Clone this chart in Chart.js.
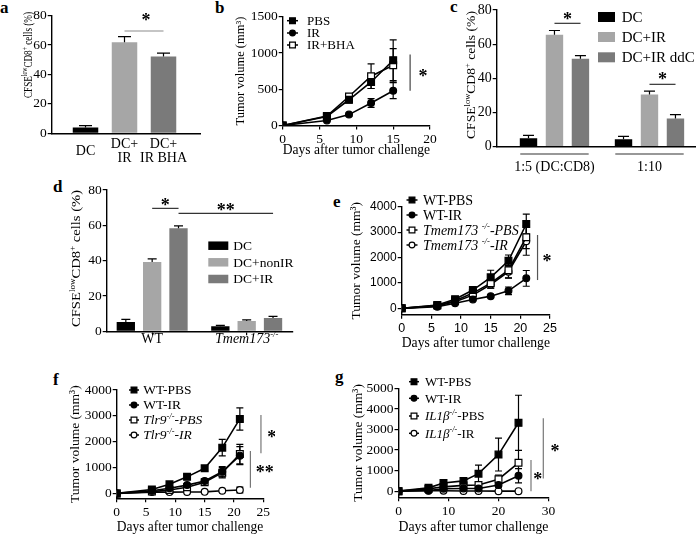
<!DOCTYPE html>
<html>
<head>
<meta charset="utf-8">
<script src="https://cdn.jsdelivr.net/npm/chart.js@4.4.0/dist/chart.umd.min.js"></script>
<style>
body { margin: 0; background: #fff; width: 698px; height: 536px; position: relative; overflow: hidden; }
canvas { position: absolute; }
.lbl { position: absolute; font: bold 17px 'Liberation Serif', serif; line-height: 17px; }
</style>
</head>
<body>
<span class="lbl" style="left:0px;top:-1px">a</span>
<span class="lbl" style="left:215px;top:-1px">b</span>
<span class="lbl" style="left:450px;top:-2px">c</span>
<span class="lbl" style="left:53px;top:178px">d</span>
<span class="lbl" style="left:333px;top:193px">e</span>
<span class="lbl" style="left:53px;top:371px">f</span>
<span class="lbl" style="left:335px;top:368px">g</span>

<canvas id="ca" width="210" height="175" style="left:0px;top:0px"></canvas>
<canvas id="cb" width="215" height="165" style="left:225px;top:0px"></canvas>
<canvas id="cc" width="243" height="180" style="left:455px;top:0px"></canvas>
<canvas id="cd" width="245" height="175" style="left:55px;top:180px"></canvas>
<canvas id="ce" width="230" height="160" style="left:340px;top:195px"></canvas>
<canvas id="cf" width="215" height="161" style="left:60px;top:375px"></canvas>
<canvas id="cg" width="230" height="161" style="left:340px;top:375px"></canvas>

<script>
// ---- data ----
// a
const aCats = [['DC'], ['DC+', 'IR'], ['DC+', 'IR BHA']];
const aVals = [4, 62, 52.3];
const aErr = [1.2, 3.8, 2.3];

// b
const bDays = [0, 6, 9, 12, 15];
const bPBS = [0, 125, 355, 600, 900];
const bPBSErr = [0, 20, 45, 90, 280];
const bIR = [0, 70, 150, 310, 480];
const bIRErr = [0, 10, 20, 60, 110];
const bBHA = [0, 130, 400, 680, 830];
const bBHAErr = [0, 15, 40, 170, 230];

// c
const cGroups = ['1:5 (DC:CD8)', '1:10'];
const cDC = [5, 4.3];
const cDCErr = [1.6, 1.8];
const cIR = [65.5, 30.5];
const cIRErr = [2.5, 2];
const cDdc = [51.5, 16.5];
const cDdcErr = [1.8, 2.3];

// d
const dDC = [5.3, 2.8];
const dDCErr = [1.4, 0.5];
const dNonIR = [39.2, 5.8];
const dNonIRErr = [1.8, 0.7];
const dIR = [58.3, 7.5];
const dIRErr = [1.4, 0.9];

// e
const eDays = [0, 6, 9, 12, 15, 18, 21];
const eWtPbs = [0, 130, 360, 720, 1220, 1870, 3320];
const eWtPbsErr = [0, 20, 40, 120, 280, 230, 390];
const eWtIr = [0, 60, 200, 350, 480, 690, 1180];
const eWtIrErr = [0, 10, 20, 40, 40, 150, 310];
const eKoPbs = [0, 110, 300, 600, 990, 1500, 2800];
const eKoPbsErr = [0, 15, 40, 100, 200, 300, 450];
const eKoIr = [0, 90, 260, 520, 940, 1440, 2640];
const eKoIrErr = [0, 15, 30, 80, 150, 250, 550];

// f
const fDays = [0, 6, 9, 12, 15, 18, 21];
const fWtPbs = [0, 150, 350, 640, 970, 1770, 2880];
const fWtPbsErr = [0, 30, 50, 80, 100, 320, 430];
const fWtIr = [0, 100, 200, 320, 480, 840, 1460];
const fWtIrErr = [0, 20, 40, 50, 80, 200, 350];
const fKoPbs = [0, 70, 130, 240, 430, 800, 1520];
const fKoPbsErr = [0, 15, 30, 50, 90, 200, 380];
const fKoIr = [0, 50, 50, 55, 60, 100, 130];
const fKoIrErr = [0, 10, 10, 10, 15, 30, 110];

// g
const gDays = [0, 6, 9, 13, 16, 20, 24];
const gWtPbs = [0, 160, 400, 500, 850, 1780, 3330];
const gWtPbsErr = [0, 40, 80, 150, 420, 800, 1340];
const gWtIr = [0, 30, 120, 130, 130, 300, 750];
const gWtIrErr = [0, 10, 30, 30, 40, 100, 350];
const gKoPbs = [0, 110, 210, 280, 300, 580, 1380];
const gKoPbsErr = [0, 30, 50, 60, 80, 200, 600];
const gKoIr = [0, 20, 20, 10, 10, 0, 0];
const gKoIrErr = [0, 5, 5, 5, 5, 5, 5];

// ---- helpers ----
const SERIF = "'Liberation Serif', 'Times New Roman', serif";
const SANS = "'Liberation Sans', Arial, sans-serif";
const LIGHT = '#a6a6a6';
const DARK = '#7a7a7a';
const CFSE = [['CFSE', ''], ['low', 's'], ['CD8', ''], ['+', 's'], [' cells (%)', '']];

Chart.defaults.font.family = SERIF;
Chart.defaults.color = '#000';

function fontStr(size, f, fam) {
    return (f.includes('i') ? 'italic ' : '') + (f.includes('b') ? 'bold ' : '') + size + 'px ' + fam;
}
function segSize(size, f) { return f.includes('s') ? size * 0.62 : size; }
function richWidth(ctx, segs, size, fam) {
    let w = 0;
    for (const [t, f] of segs) {
        ctx.font = fontStr(segSize(size, f), f, fam);
        w += ctx.measureText(t).width;
    }
    return w;
}
// y is the visual middle of capitals
function drawRich(ctx, segs, x, y, size, fam, align) {
    const w = richWidth(ctx, segs, size, fam);
    let cx = align === 'center' ? x - w / 2 : x;
    ctx.textAlign = 'left';
    ctx.textBaseline = 'alphabetic';
    const base = y + size * 0.33;
    for (const [t, f] of segs) {
        ctx.font = fontStr(segSize(size, f), f, fam);
        ctx.fillText(t, cx, f.includes('s') ? base - size * 0.4 : base);
        cx += ctx.measureText(t).width;
    }
}
function marker(ctx, style, fill, r, x, y) {
    ctx.fillStyle = fill;
    ctx.strokeStyle = '#000';
    ctx.lineWidth = 1.2;
    ctx.beginPath();
    if (style === 'rect') {
        const s = r * Math.SQRT1_2;
        ctx.rect(x - s, y - s, 2 * s, 2 * s);
    } else {
        ctx.arc(x, y, r, 0, Math.PI * 2);
    }
    ctx.fill();
    ctx.stroke();
}

const DECO = {};

function drawErrors(chart, cfg) {
    const ctx = chart.ctx, ys = chart.scales.y;
    ctx.save();
    ctx.strokeStyle = '#000';
    ctx.lineWidth = 1.2;
    cfg.err.forEach((E, di) => {
        const meta = chart.getDatasetMeta(di);
        const ds = chart.data.datasets[di];
        meta.data.forEach((el, j) => {
            const e = E[j];
            if (!e) return;
            const v = ds.data[j].y;
            const t = ys.getPixelForValue(v + e);
            const b = cfg.errUp ? ys.getPixelForValue(v) : ys.getPixelForValue(v - e);
            const h = cfg.cap / 2;
            ctx.beginPath();
            ctx.moveTo(el.x, b); ctx.lineTo(el.x, t);
            ctx.moveTo(el.x - h, t); ctx.lineTo(el.x + h, t);
            if (!cfg.errUp) { ctx.moveTo(el.x - h, b); ctx.lineTo(el.x + h, b); }
            ctx.stroke();
        });
    });
    ctx.restore();
}

function drawStar(ctx, text, x, y) {
    ctx.fillStyle = '#000';
    ctx.font = 'bold 18px ' + SERIF;
    ctx.textAlign = 'center';
    ctx.textBaseline = 'alphabetic';
    ctx.fillText(text, x, y + 18 * 0.5);
}

function drawExtras(chart, cfg) {
    const ctx = chart.ctx, xs = chart.scales.x, ys = chart.scales.y;
    const [ox, oy] = cfg.off;
    ctx.save();

    if (cfg.ytitle) {
        // rotated title, squeezed or stretched along its length to the reference size
        const t = cfg.ytitle;
        const w = richWidth(ctx, t.segs, t.size, SERIF);
        ctx.save();
        ctx.translate(t.cx - ox, t.cy - oy);
        ctx.rotate(-Math.PI / 2);
        ctx.scale(t.len / w, 1);
        ctx.fillStyle = '#000';
        drawRich(ctx, t.segs, 0, 0, t.size, SERIF, 'center');
        ctx.restore();
    }

    if (cfg.cats) {
        const c = cfg.cats;
        ctx.fillStyle = '#000';
        c.items.forEach((lines, i) => {
            const x = xs.getPixelForValue(i);
            const y0 = c.y - oy - (lines.length - 1) * c.lh / 2;
            lines.forEach((segs, k) => drawRich(ctx, segs, x, y0 + k * c.lh, c.font, SERIF, 'center'));
        });
    }

    if (cfg.brackets) {
        const br = cfg.brackets;
        ctx.strokeStyle = '#333';
        ctx.lineWidth = 1.1;
        br.at.forEach(v => {
            ctx.beginPath();
            ctx.moveTo(xs.getPixelForValue(v - br.half), br.y - oy);
            ctx.lineTo(xs.getPixelForValue(v + br.half), br.y - oy);
            ctx.stroke();
        });
    }

    (cfg.sig || []).forEach(s => {
        ctx.strokeStyle = s.color || '#555';
        ctx.lineWidth = 1.2;
        ctx.beginPath();
        let sx, sy;
        if (s.h) {
            const x1 = xs.getPixelForValue(s.x1), x2 = xs.getPixelForValue(s.x2), y = ys.getPixelForValue(s.y);
            ctx.moveTo(x1, y); ctx.lineTo(x2, y);
            sx = (x1 + x2) / 2 + (s.dx || 0);
            sy = y + s.dy;
        } else {
            const x = xs.getPixelForValue(s.x), y1 = ys.getPixelForValue(s.y1), y2 = ys.getPixelForValue(s.y2);
            ctx.moveTo(x, y1); ctx.lineTo(x, y2);
            sx = x + s.dx;
            sy = (y1 + y2) / 2 + (s.dy || 0);
        }
        ctx.stroke();
        drawStar(ctx, s.star, sx, sy);
    });

    if (cfg.legend) {
        const L = cfg.legend;
        L.items.forEach((it, i) => {
            const y = L.rows[i] - oy;
            const mx = L.x - ox;
            if (L.box) {
                ctx.fillStyle = it.color;
                ctx.fillRect(mx, y - L.bh / 2, L.bw, L.bh);
            } else {
                const ds = chart.data.datasets[it.ds];
                ctx.strokeStyle = '#000';
                ctx.lineWidth = 1.5;
                ctx.beginPath();
                ctx.moveTo(mx - L.mw / 2, y); ctx.lineTo(mx + L.mw / 2, y);
                ctx.stroke();
                marker(ctx, ds.pointStyle, ds.pointBackgroundColor, ds.pointRadius * 0.85, mx, y);
            }
            ctx.fillStyle = '#000';
            drawRich(ctx, it.segs, L.tx - ox, y, L.font, SERIF, 'left');
        });
    }
    ctx.restore();
}

const decoPlugin = {
    id: 'deco',
    beforeDatasetsDraw(chart) {
        const cfg = DECO[chart.canvas.id];
        if (cfg && !cfg.errUp) drawErrors(chart, cfg);
    },
    afterDatasetsDraw(chart) {
        const cfg = DECO[chart.canvas.id];
        if (!cfg) return;
        if (cfg.errUp) drawErrors(chart, cfg);
        drawExtras(chart, cfg);
    }
};
Chart.register(decoPlugin);

function yAxis(w, min, max, ticks, font, title) {
    return {
        type: 'linear', min: min, max: max, offset: false,
        afterBuildTicks: s => { s.ticks = ticks.map(v => ({ value: v })); },
        afterFit: s => { s.width = w; },
        ticks: { color: '#000', font: font, padding: 1, autoSkip: false, callback: v => String(v) },
        grid: { drawOnChartArea: false, color: '#000', tickLength: 4, lineWidth: 1.2, offset: false },
        border: { color: '#000', width: 1.4 },
        title: title || { display: false }
    };
}
function xAxis(h, min, max, ticks, font, title, extra) {
    const ax = {
        type: 'linear', min: min, max: max, offset: false,
        afterBuildTicks: s => { s.ticks = ticks.map(v => ({ value: v })); },
        afterFit: s => { s.height = h; },
        ticks: { color: '#000', font: font, padding: 2, autoSkip: false, maxRotation: 0, callback: v => String(v) },
        grid: { drawOnChartArea: false, color: '#000', tickLength: 4, lineWidth: 1.2, offset: false },
        border: { color: '#000', width: 1.4 },
        title: title || { display: false }
    };
    return Object.assign(ax, extra || {});
}
function baseOpts(pad, scales) {
    return {
        responsive: false, animation: false, events: [], devicePixelRatio: 1,
        layout: { padding: { left: 0, bottom: 0, top: pad.top, right: pad.right } },
        plugins: { legend: { display: false }, tooltip: { enabled: false } },
        scales: scales
    };
}
function barDs(vals, color, cp, bp) {
    return {
        data: vals.map((v, i) => ({ x: i, y: v })),
        backgroundColor: color, borderWidth: 0,
        categoryPercentage: cp, barPercentage: bp
    };
}
function lineDs(days, vals, style, filled) {
    return {
        data: days.map((d, i) => ({ x: d, y: vals[i] })),
        borderColor: '#000', borderWidth: 1.6, tension: 0,
        pointStyle: style, pointRadius: style === 'rect' ? 4.8 : 3.4,
        pointBackgroundColor: filled ? '#000' : '#fff',
        pointBorderColor: '#000', pointBorderWidth: 1.2
    };
}
const xTitle = (size, pb) => ({ display: true, text: 'Days after tumor challenge', color: '#000', font: { size: size, family: SERIF }, padding: { top: 0, bottom: pb } });
const yTitle = (size, pt) => ({ display: true, text: 'Tumor volume (mm³)', color: '#000', font: { size: size, family: SERIF }, padding: { top: pt, bottom: 0 } });

// ---- a ----
DECO.ca = {
    off: [0, 0], errUp: true, cap: 13, err: [aErr],
    ytitle: { cx: 27.5, cy: 55, len: 86, size: 13, segs: CFSE },
    cats: { y: 150, lh: 14, font: 14, items: aCats.map(lines => lines.map(t => [[t, '']])) },
    sig: [{ h: true, x1: 1, x2: 2, y: 69.6, star: '*', dy: -14, dx: 2, color: '#8c8c8c' }]
};
new Chart(document.getElementById('ca'), {
    type: 'bar',
    data: { datasets: [{ data: aVals.map((v, i) => ({ x: i, y: v })), backgroundColor: ['#000', LIGHT, DARK], borderWidth: 0, categoryPercentage: 1, barPercentage: 0.654 }] },
    options: baseOpts({ top: 15.7, right: 10 }, {
        x: xAxis(41.7, -0.867, 2.936, [0, 1, 2], { size: 14 }, null, { ticks: { display: false }, grid: { display: false } }),
        y: yAxis(51.7, 0, 80, [0, 20, 40, 60, 80], { size: 13.5 })
    })
});

// ---- b ----
DECO.cb = {
    off: [225, 0], errUp: false, cap: 7, err: [bPBSErr, bIRErr, bBHAErr],
    legend: { x: 292.5, mw: 11, tx: 307, rows: [20.7, 33, 45], font: 13, items: [
        { ds: 0, segs: [['PBS', '']] }, { ds: 1, segs: [['IR', '']] }, { ds: 2, segs: [['IR+BHA', '']] }] },
    sig: [{ x: 17.3, y1: 480, y2: 980, star: '*', dx: 13, color: '#444' }]
};
new Chart(document.getElementById('cb'), {
    type: 'line',
    data: { datasets: [lineDs(bDays, bPBS, 'rect', true), lineDs(bDays, bIR, 'circle', true), lineDs(bDays, bBHA, 'rect', false)] },
    options: baseOpts({ top: 16.7, right: 10 }, {
        x: xAxis(39.5, 0, 20, [0, 5, 10, 15, 20], { size: 13.5 }, xTitle(14, 6.6)),
        y: yAxis(57.7, 0, 1500, [0, 500, 1000, 1500], { size: 13.5 }, yTitle(12.5, 8.5))
    })
});

// ---- c ----
DECO.cc = {
    off: [455, 0], errUp: true, cap: 11, err: [cDCErr, cIRErr, cDdcErr],
    ytitle: { cx: 471, cy: 75, len: 128, size: 13.5, segs: CFSE },
    brackets: { y: 154, half: 0.36, at: [0, 1] },
    legend: { box: true, x: 598, bw: 17, bh: 10, tx: 621.7, rows: [17, 37, 57.3], font: 15, items: [
        { color: '#000', segs: [['DC', '']] }, { color: LIGHT, segs: [['DC+IR', '']] }, { color: DARK, segs: [['DC+IR ddC', '']] }] },
    sig: [{ h: true, x1: 0, x2: 0.274, y: 72.2, star: '*', dy: -7, color: '#333' },
          { h: true, x1: 1, x2: 1.274, y: 36.5, star: '*', dy: -8, color: '#333' }]
};
new Chart(document.getElementById('cc'), {
    type: 'bar',
    data: { datasets: [barDs(cDC, '#000', 0.82, 0.67), barDs(cIR, LIGHT, 0.82, 0.67), barDs(cDdc, DARK, 0.82, 0.67)] },
    options: baseOpts({ top: 10, right: 3 }, {
        x: xAxis(33.3, -0.608, 1.479, [0, 1], { size: 14 }, null,
            { ticks: { color: '#000', font: { size: 14 }, padding: 12, autoSkip: false, maxRotation: 0, callback: v => cGroups[v] },
              grid: { display: true, drawOnChartArea: false, drawTicks: false, offset: false } }),
        y: yAxis(41.7, 0, 80, [0, 20, 40, 60, 80], { size: 14 })
    })
});

// ---- d ----
DECO.cd = {
    off: [55, 180], errUp: true, cap: 9, err: [dDCErr, dNonIRErr, dIRErr],
    ytitle: { cx: 76, cy: 258.5, len: 137, size: 13.5, segs: CFSE },
    cats: { y: 338, lh: 14, font: 14, items: [[[['WT', '']]], [[['Tmem173', 'i'], ['-/-', 'is']]]] },
    legend: { box: true, x: 208.3, bw: 20, bh: 8.5, tx: 233.3, rows: [245.7, 262.3, 279], font: 13.5, items: [
        { color: '#000', segs: [['DC', '']] }, { color: LIGHT, segs: [['DC+nonIR', '']] }, { color: DARK, segs: [['DC+IR', '']] }] },
    sig: [{ h: true, x1: 0, x2: 0.279, y: 69.6, star: '*', dy: -6, color: '#333' },
          { h: true, x1: 0.279, x2: 1.279, y: 66.8, star: '**', dy: -6, color: '#333' }]
};
new Chart(document.getElementById('cd'), {
    type: 'bar',
    data: { datasets: [barDs(dDC, '#000', 0.836, 0.695), barDs(dNonIR, LIGHT, 0.836, 0.695), barDs(dIR, DARK, 0.836, 0.695)] },
    options: baseOpts({ top: 10, right: 7 }, {
        x: xAxis(23.7, -0.481, 1.49, [0, 1], { size: 14 }, null, { ticks: { display: false } }),
        y: yAxis(51.7, 0, 80, [0, 20, 40, 60, 80], { size: 13.5 })
    })
});

// ---- e ----
DECO.ce = {
    off: [340, 195], errUp: false, cap: 7, err: [eWtPbsErr, eWtIrErr, eKoPbsErr, eKoIrErr],
    legend: { x: 412, mw: 11, tx: 423, rows: [200, 215, 230, 245], font: 14, items: [
        { ds: 0, segs: [['WT-PBS', '']] }, { ds: 1, segs: [['WT-IR', '']] },
        { ds: 2, segs: [['Tmem173 ', 'i'], ['-/-', 'is'], ['-PBS', 'i']] },
        { ds: 3, segs: [['Tmem173 ', 'i'], ['-/-', 'is'], ['-IR', 'i']] }] },
    sig: [{ x: 22.9, y1: 1114, y2: 2886, star: '*', dx: 9.4, color: '#555' }]
};
new Chart(document.getElementById('ce'), {
    type: 'line',
    data: { datasets: [lineDs(eDays, eWtPbs, 'rect', true), lineDs(eDays, eWtIr, 'circle', true), lineDs(eDays, eKoPbs, 'rect', false), lineDs(eDays, eKoIr, 'circle', false)] },
    options: baseOpts({ top: 11.7, right: 20 }, {
        x: xAxis(40.3, 0, 25, [0, 5, 10, 15, 20, 25], { size: 12.5, family: SANS }, xTitle(13.8, 3.7)),
        y: yAxis(61.7, -250, 4000, [0, 1000, 2000, 3000, 4000], { size: 12, family: SANS }, yTitle(13.5, 8.6))
    })
});

// ---- f ----
DECO.cf = {
    off: [60, 375], errUp: false, cap: 7, err: [fWtPbsErr, fWtIrErr, fKoPbsErr, fKoIrErr],
    legend: { x: 134, mw: 10, tx: 143.3, rows: [390, 405, 420, 435], font: 13.5, items: [
        { ds: 0, segs: [['WT-PBS', '']] }, { ds: 1, segs: [['WT-IR', '']] },
        { ds: 2, segs: [['Tlr9', 'i'], ['-/-', 'is'], ['-PBS', 'i']] },
        { ds: 3, segs: [['Tlr9', 'i'], ['-/-', 'is'], ['-IR', 'i']] }] },
    sig: [{ x: 24.6, y1: 1549, y2: 3031, star: '*', dx: 10.7, color: '#777' },
          { x: 22.8, y1: 217, y2: 1638, star: '**', dx: 14.3, color: '#777' }]
};
new Chart(document.getElementById('cf'), {
    type: 'line',
    data: { datasets: [lineDs(fDays, fWtPbs, 'rect', true), lineDs(fDays, fWtIr, 'circle', true), lineDs(fDays, fKoPbs, 'rect', false), lineDs(fDays, fKoIr, 'circle', false)] },
    options: baseOpts({ top: 15, right: 11.7 }, {
        x: xAxis(37.7, 0, 25, [0, 5, 10, 15, 20, 25], { size: 13.5 }, xTitle(13.8, 0)),
        y: yAxis(56.7, -190, 4000, [0, 1000, 2000, 3000, 4000], { size: 13.5 }, yTitle(13.5, 6.9))
    })
});

// ---- g ----
DECO.cg = {
    off: [340, 375], errUp: false, cap: 7, err: [gWtPbsErr, gWtIrErr, gKoPbsErr, gKoIrErr],
    legend: { x: 414, mw: 10, tx: 425, rows: [381.7, 398.3, 416, 433.3], font: 13, items: [
        { ds: 0, segs: [['WT-PBS', '']] }, { ds: 1, segs: [['WT-IR', '']] },
        { ds: 2, segs: [['IL1β', 'i'], ['-/-', 'is'], ['-PBS', '']] },
        { ds: 3, segs: [['IL1β', 'i'], ['-/-', 'is'], ['-IR', '']] }] },
    sig: [{ x: 26.5, y1: 0, y2: 1512, star: '*', dx: 6.7, color: '#777' },
          { x: 28.96, y1: 620, y2: 3546, star: '*', dx: 11.7, color: '#777' }]
};
new Chart(document.getElementById('cg'), {
    type: 'line',
    data: { datasets: [lineDs(gDays, gWtPbs, 'rect', true), lineDs(gDays, gWtIr, 'circle', true), lineDs(gDays, gKoPbs, 'rect', false), lineDs(gDays, gKoIr, 'circle', false)] },
    options: baseOpts({ top: 13.5, right: 21.5 }, {
        x: xAxis(38.7, 0, 30, [0, 10, 20, 30], { size: 13.5 }, xTitle(14, 0)),
        y: yAxis(58.5, -300, 5000, [0, 1000, 2000, 3000, 4000, 5000], { size: 13.5 }, yTitle(13.5, 10.2))
    })
});
</script>
</body>
</html>
